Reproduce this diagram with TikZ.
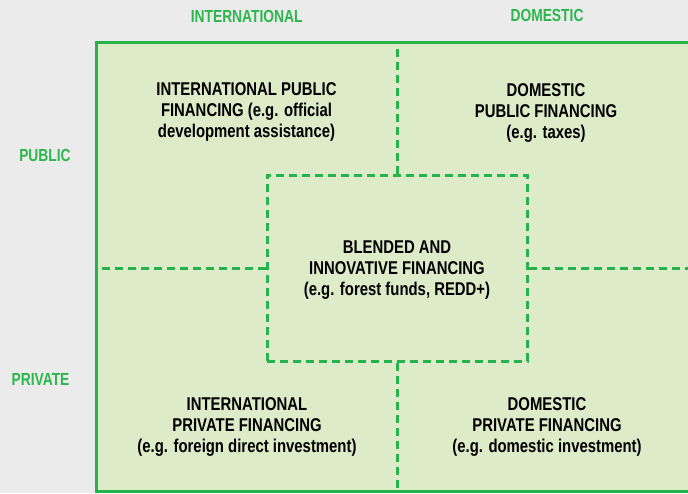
\documentclass[tikz,border=0pt]{standalone}
\usepackage{fontspec}
\setmainfont{Liberation Sans}[FakeStretch=0.805]
\newfontfamily\lblfont{Liberation Sans}[FakeStretch=0.79]
\definecolor{bggray}{RGB}{235,235,235}
\definecolor{boxgreen}{RGB}{221,235,200}
\definecolor{linegreen}{RGB}{37,180,76}
\definecolor{txtgreen}{RGB}{45,181,78}
\begin{document}
\begin{tikzpicture}[x=1pt,y=-1pt,
  txt/.style={align=center, anchor=north, font=\fontsize{18.5}{21}\selectfont\bfseries, text=black, inner sep=0pt},
  lbl/.style={anchor=north, font=\lblfont\fontsize{17.5}{20}\selectfont\bfseries, text=txtgreen, inner sep=0pt},
  dline/.style={draw=linegreen, line width=3pt, dash pattern=on 8pt off 5pt},
  blendbox/.style={draw=linegreen, line width=3pt, dash pattern=on 8pt off 5pt, minimum width=260pt, minimum height=186pt, inner sep=0pt}]
\useasboundingbox (0,0) rectangle (688,493);
\fill[bggray] (0,0) rectangle (688,493);
\begin{scope}
\clip (0,0) rectangle (688,493);
\draw[linegreen, fill=boxgreen, line width=3pt] (96.5,42.5) rectangle (700,491);
\end{scope}
% connector end points on the outer frame
\coordinate (ftop) at (397,42.5);
\coordinate (fbot) at (397,491);
\coordinate (fleft) at (96.5,268);
\coordinate (fright) at (688,268);
% centre box
\node[blendbox] (blend) at (397,268) {};
\draw[dline] (blend.north) -- (ftop);
\draw[dline] (blend.south) -- (fbot);
\draw[dline] (blend.west) -- (fleft);
\draw[dline] (blend.east) -- (fright);
% axis labels
\node[lbl] (intl) at (246.7,10) {INTERNATIONAL};
\node[lbl] (dom) at (547,9.5) {DOMESTIC};
\node[lbl] (pub) at (45,149) {PUBLIC};
\node[lbl] (priv) at (40.5,373.5) {PRIVATE};
% quadrant texts
\node[txt] (ipf) at (246.5,82.7) {INTERNATIONAL PUBLIC\\FINANCING (e.g. official\\development assistance)};
\node[txt] (dpf) at (546,83) {DOMESTIC\\PUBLIC FINANCING\\(e.g. taxes)};
\node[txt] (bif) at (397,241) {BLENDED AND\\INNOVATIVE FINANCING\\(e.g. forest funds, REDD+)};
\node[txt] (iprf) at (247,397) {INTERNATIONAL\\PRIVATE FINANCING\\(e.g. foreign direct investment)};
\node[txt] (dprf) at (547,397) {DOMESTIC\\PRIVATE FINANCING\\(e.g. domestic investment)};
\end{tikzpicture}
\end{document}
